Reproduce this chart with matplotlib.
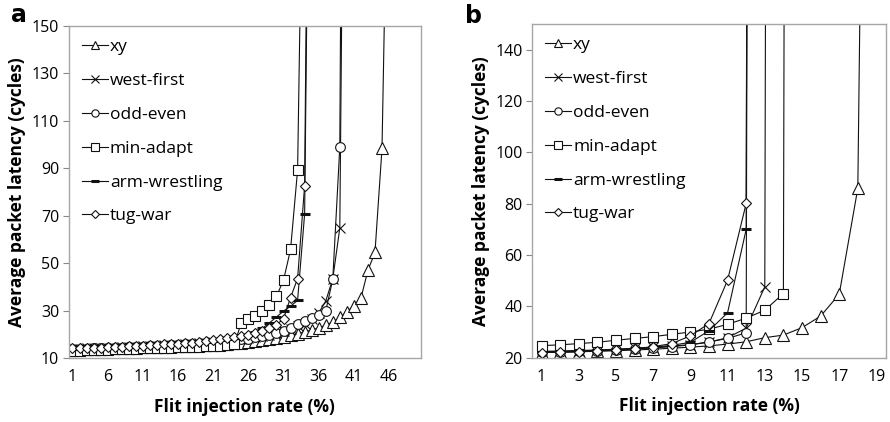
import numpy as np
import matplotlib
matplotlib.use("Agg")
import matplotlib.pyplot as plt

plt.rcParams['font.family'] = ['Open Sans', 'DejaVu Sans']

series_names = ["xy", "west-first", "odd-even", "min-adapt", "arm-wrestling", "tug-war"]

# ---- panel a: injection rates 1..50 (%) ----
rate_a = list(range(1, 51))
xy_a = [13.5, 13.6, 13.7, 13.8, 13.9, 14.0, 14.1, 14.2, 14.3, 14.4,
        14.5, 14.6, 14.7, 14.8, 14.9, 15.0, 15.1, 15.2, 15.3, 15.5,
        15.6, 15.8, 16.0, 16.2, 16.5, 16.8, 17.1, 17.5, 17.9, 18.4,
        18.9, 19.5, 20.2, 21.0, 21.8, 22.7, 23.8, 25.2, 27.1, 29.6,
        32.0, 35.2, 47.0, 54.5, 98.4, 260.0]
west_first_a = [13.8, 13.9, 14.0, 14.1, 14.2, 14.3, 14.4, 14.5, 14.6, 14.8,
                14.9, 15.0, 15.2, 15.3, 15.5, 15.6, 15.8, 16.0, 16.2, 16.4,
                16.6, 16.9, 17.2, 17.5, 17.9, 18.3, 18.8, 19.3, 19.9, 20.6,
                21.4, 22.3, 23.3, 24.5, 26.3, 29.0, 34.0, 43.4, 64.8, 400.0]
odd_even_a = [13.7, 13.8, 13.9, 14.0, 14.1, 14.2, 14.3, 14.4, 14.5, 14.7,
              14.8, 14.9, 15.1, 15.2, 15.4, 15.5, 15.7, 15.9, 16.1, 16.3,
              16.5, 16.8, 17.1, 17.4, 17.8, 18.2, 18.7, 19.3, 19.9, 20.7,
              21.5, 22.8, 24.5, 25.7, 26.9, 28.2, 29.8, 43.2, 99.0, 600.0]
min_adapt_a = [13.0, 13.1, 13.2, 13.3, 13.4, 13.5, 13.6, 13.7, 13.8, 13.9,
               14.0, 14.1, 14.2, 14.3, 14.4, 14.5, 14.6, 14.7, 14.8, 14.9,
               15.0, 15.2, 15.4, 15.7, 24.9, 26.5, 27.8, 29.8, 32.3, 36.1,
               42.8, 55.8, 89.3, 280.0]
arm_wrestling_a = [13.9, 14.0, 14.1, 14.2, 14.3, 14.4, 14.5, 14.6, 14.8, 14.9,
                   15.0, 15.2, 15.3, 15.5, 15.7, 15.9, 16.1, 16.3, 16.6, 16.9,
                   17.2, 17.6, 18.0, 18.5, 19.1, 19.8, 20.8, 22.5, 24.8, 27.3,
                   29.8, 31.8, 34.3, 70.8, 350.0]
tug_war_a = [14.0, 14.1, 14.2, 14.3, 14.4, 14.5, 14.6, 14.7, 14.9, 15.0,
             15.2, 15.3, 15.5, 15.7, 15.9, 16.1, 16.3, 16.5, 16.8, 17.1,
             17.5, 17.9, 18.3, 18.7, 19.2, 19.8, 20.5, 21.4, 22.5, 24.0,
             26.5, 35.5, 43.5, 82.7, 420.0]

# ---- panel b: injection rates 1..19 (%) ----
rate_b = list(range(1, 20))
xy_b = [22.0, 22.1, 22.3, 22.5, 22.7, 23.0, 23.3, 23.7, 24.1, 24.6,
        25.3, 26.2, 27.8, 28.8, 31.7, 36.2, 44.7, 86.0, 700.0]
west_first_b = [22.5, 22.6, 22.8, 23.0, 23.3, 23.6, 24.0, 24.5, 25.1, 26.0,
                27.8, 31.5, 47.6, 3000.0]
odd_even_b = [22.3, 22.4, 22.6, 22.8, 23.1, 23.4, 23.8, 24.3, 25.0, 26.2,
              27.5, 29.7, 3000.0]
min_adapt_b = [24.7, 25.0, 25.5, 26.0, 26.8, 27.5, 28.2, 29.1, 30.0, 31.1,
               33.0, 35.4, 38.5, 45.0, 3000.0]
arm_wrestling_b = [22.3, 22.4, 22.6, 22.9, 23.2, 23.6, 24.1, 24.8, 26.0, 30.5,
                   37.5, 70.0, 3000.0]
tug_war_b = [22.0, 22.1, 22.3, 22.6, 23.0, 23.5, 24.3, 25.5, 28.5, 33.3,
             50.2, 80.1, 3000.0]

markers = {
    "xy": dict(marker="^", ms=8),
    "west-first": dict(marker="x", ms=7),
    "odd-even": dict(marker="o", ms=7),
    "min-adapt": dict(marker="s", ms=7),
    "arm-wrestling": dict(marker="_", ms=7, mew=2.2),
    "tug-war": dict(marker="D", ms=5.5),
}

fig = plt.figure(figsize=(8.9, 4.22), dpi=100)
ax_a = fig.add_axes([0.0775, 0.1517, 0.3952, 0.7867])
ax_b = fig.add_axes([0.598, 0.1524, 0.3972, 0.7907])

panels = [
    (ax_a, rate_a, [xy_a, west_first_a, odd_even_a, min_adapt_a, arm_wrestling_a, tug_war_a],
     (0.5, 50.5), (10, 150), list(range(1, 47, 5)), list(range(10, 151, 20))),
    (ax_b, rate_b, [xy_b, west_first_b, odd_even_b, min_adapt_b, arm_wrestling_b, tug_war_b],
     (0.5, 19.5), (20, 150), list(range(1, 20, 2)), list(range(20, 141, 20))),
]

for ax, rates, data, xlim, ylim, xticks, yticks in panels:
    for name, vals in zip(series_names, data):
        x = rates[:len(vals)]
        style = dict(mew=0.8)
        style.update(markers[name])
        ax.plot(x, vals, color="#111111", lw=0.8, mfc="white", mec="#111111",
                label=name, **style)
    ax.set_xlim(*xlim)
    ax.set_ylim(*ylim)
    ax.set_xticks(xticks)
    ax.set_yticks(yticks)
    ax.tick_params(axis="y", direction="out", length=4, width=0.8, color="#888888",
                   labelsize=11.5, pad=3)
    ax.tick_params(axis="x", length=0, labelsize=11.5, pad=8)
    for s in ax.spines.values():
        s.set_color("#a6a6a6")
        s.set_linewidth(1.0)
    ax.set_xlabel("Flit injection rate (%)", fontsize=12.5, fontweight="bold", labelpad=9)
    ax.set_ylabel("Average packet latency (cycles)", fontsize=12.5, fontweight="bold", labelpad=4)
    ax.legend(loc="upper left", frameon=False, fontsize=12.5, handlelength=1.5,
              handletextpad=0.1, labelspacing=1.02, borderaxespad=0.35,
              numpoints=1, markerscale=0.75, bbox_to_anchor=(0.0, 1.0))

fig.text(0.012, 0.965, "a", fontsize=17, fontweight="bold", ha="left", va="center",
         family="DejaVu Sans")
fig.text(0.522, 0.962, "b", fontsize=17, fontweight="bold", ha="left", va="center",
         family="DejaVu Sans")

fig.savefig("out.png", dpi=100)
